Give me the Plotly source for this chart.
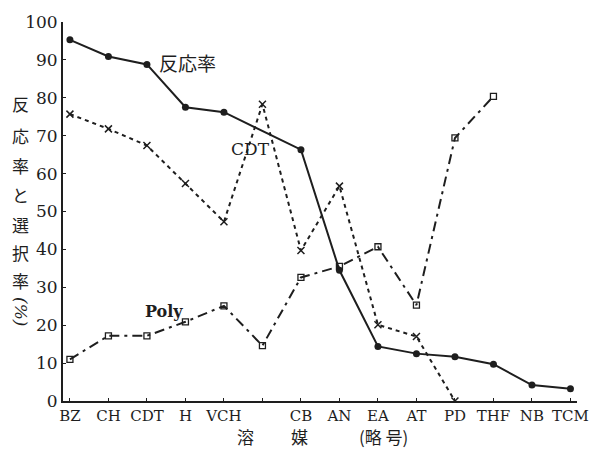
import plotly.graph_objects as go

solvents = ["BZ", "CH", "CDT", "H", "VCH", "", "CB", "AN", "EA", "AT", "PD", "THF", "NB", "TCM"]
xi = list(range(len(solvents)))

reaction = [95.3, 90.9, 88.8, 77.5, 76.2, None, 66.3, 34.5, 14.4, 12.5, 11.7, 9.7, 4.2, 3.2]
cdt_sel = [75.7, 71.8, 67.4, 57.4, 47.3, 78.3, 39.7, 56.7, 20.1, 17.0, 0.0, None, None, None]
poly_sel = [11.0, 17.2, 17.2, 20.9, 25.1, 14.6, 32.6, 35.5, 40.7, 25.3, 69.4, 80.4, None, None]

serif = "DejaVu Serif, Liberation Serif, serif"
cjk = "Noto Sans CJK JP"
ink = "#1e1e1e"

fig = go.Figure()
fig.add_trace(go.Scatter(x=xi, y=reaction, mode="lines+markers", connectgaps=True,
                         line=dict(color=ink, width=2),
                         marker=dict(symbol="circle", size=7, color=ink),
                         name="反応率"))
fig.add_trace(go.Scatter(x=xi, y=cdt_sel, mode="lines+markers",
                         line=dict(color=ink, width=2, dash="4px,4px"),
                         marker=dict(symbol="x-thin-open", size=7, color=ink,
                                     line=dict(width=1.5, color=ink)),
                         name="CDT"))
fig.add_trace(go.Scatter(x=xi, y=poly_sel, mode="lines+markers",
                         line=dict(color=ink, width=2, dash="10px,5px,3px,5px"),
                         marker=dict(symbol="square-open", size=6, color=ink,
                                     line=dict(width=1.3, color=ink)),
                         name="Poly"))

fig.add_annotation(x=3.06, y=89.3, text="反応率", showarrow=False,
                   font=dict(family=cjk, size=19, color=ink), xanchor="center", yanchor="middle")
fig.add_annotation(x=4.68, y=66.6, text="CDT", showarrow=False,
                   font=dict(family=serif, size=17, color=ink), xanchor="center", yanchor="middle")
fig.add_annotation(x=2.44, y=23.5, text="<b>Poly</b>", showarrow=False,
                   font=dict(family=serif, size=16, color=ink), xanchor="center", yanchor="middle")

# vertical y-axis title, one character per annotation (paper coords)
ychars = ["反", "応", "率", "と", "選", "択", "率"]
ypos = [0.784, 0.700, 0.622, 0.544, 0.466, 0.393, 0.318]
for ch, yp in zip(ychars, ypos):
    fig.add_annotation(xref="paper", yref="paper", x=-0.082, y=yp, text=ch,
                       showarrow=False, font=dict(family=cjk, size=17, color=ink),
                       xanchor="center", yanchor="middle")
fig.add_annotation(xref="paper", yref="paper", x=-0.082, y=0.235, text="<i>(%)</i>", textangle=90,
                   showarrow=False, font=dict(family=serif, size=17, color=ink),
                   xanchor="center", yanchor="middle")

# x-axis title
for txt, px in [("溶", 245), ("媒", 299), ("(略 号)", 383)]:
    fig.add_annotation(xref="paper", yref="paper", x=(px - 63) / 514, y=-0.094, text=txt,
                       showarrow=False, font=dict(family=cjk, size=17, color=ink),
                       xanchor="center", yanchor="middle")

fig.update_xaxes(range=[-0.18, 13.17], tickvals=xi, ticktext=solvents,
                 showgrid=False, zeroline=False, showline=True, linecolor=ink, linewidth=2,
                 ticks="inside", ticklen=3, tickcolor=ink,
                 tickfont=dict(family=serif, size=15, color=ink))
fig.update_yaxes(range=[0, 100], tickvals=list(range(0, 101, 10)),
                 showgrid=False, zeroline=False, showline=True, linecolor=ink, linewidth=2,
                 ticks="inside", ticklen=3, tickcolor=ink,
                 tickfont=dict(family=serif, size=17, color=ink))

fig.update_layout(width=606, height=452, margin=dict(l=63, r=29, t=17, b=51),
                  plot_bgcolor="white", paper_bgcolor="white", showlegend=False)

fig.write_html("out.html")
